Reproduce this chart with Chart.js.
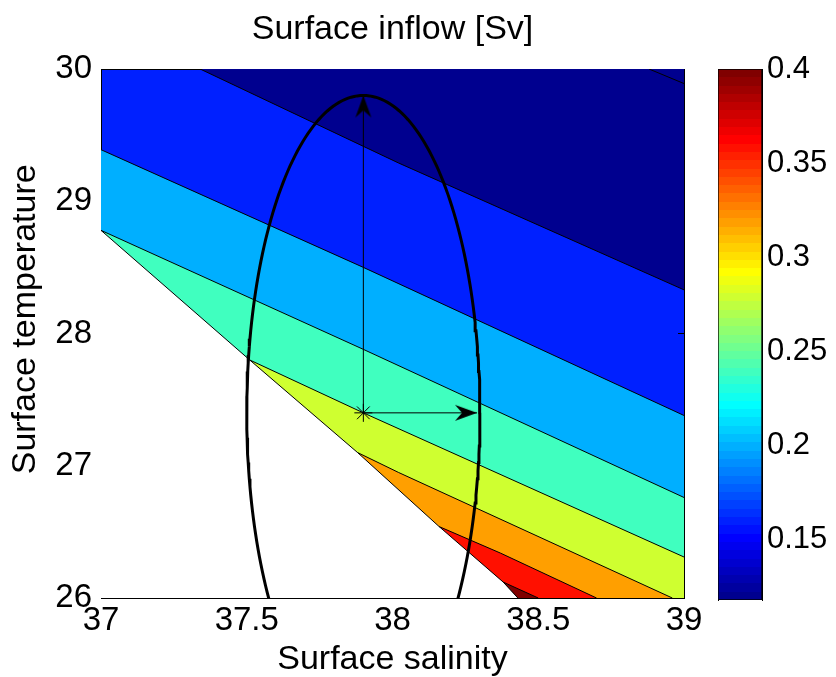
<!DOCTYPE html>
<html>
<head>
<meta charset="utf-8">
<title>Surface inflow [Sv]</title>
<script src="https://cdn.jsdelivr.net/npm/chart.js@4.4.1/dist/chart.umd.min.js"></script>
<style>
  body { margin: 0; background: #fff; }
  #wrap { position: relative; width: 836px; height: 677px; }
  #wrap canvas { position: absolute; top: 0; }
  #main { left: 0; }
  #cbar { left: 700px; }
</style>
</head>
<body>
<div id="wrap">
  <canvas id="main" width="785" height="677"></canvas>
  <canvas id="cbar" width="136" height="677"></canvas>
</div>
<script>
// axis ticks
const salinityTicks = [37, 37.5, 38, 38.5, 39];
const salinityLabels = ['37', '37.5', '38', '38.5', '39'];
const tempTicks = [26, 27, 28, 29, 30];
const tempLabels = ['26', '27', '28', '29', '30'];

// colour scale
const cMin = 0.1176, cMax = 0.4;
const cbarTicks = [0.15, 0.2, 0.25, 0.3, 0.35, 0.4];
const cbarLabels = ['0.15', '0.2', '0.25', '0.3', '0.35', '0.4'];

// contour levels [Sv] and the lines
const levels = [0.12, 0.16, 0.2, 0.24, 0.28, 0.32, 0.36, 0.4];
const contourS = [
  [38.88, 39.0],
  [37.34, 38.02, 39.0],
  [37.0, 37.9, 39.0],
  [37.0, 37.9, 39.0],
  [37.51, 37.9, 39.0],
  [37.88, 38.02, 38.96],
  [38.16, 38.37, 38.7],
  [38.38, 38.5]
];
const contourT = [
  [30.0, 29.89],
  [30.0, 29.29, 28.33],
  [29.39, 28.5, 27.38],
  [28.78, 27.88, 26.76],
  [27.8, 27.4, 26.31],
  [27.1, 26.95, 26.0],
  [26.54, 26.34, 26.0],
  [26.12, 26.0]
];
// edge of the region without values (white)
const emptyS = [37.0, 37.51, 37.88, 38.16, 38.38, 38.43];
const emptyT = [28.78, 27.8, 27.1, 26.54, 26.12, 26.0];

// mean state and its spread
const meanS = 37.9, meanT = 27.4;
const spreadS = 0.4, spreadT = 2.4;
const arrowTipS = 38.29, arrowTipT = 29.8;

const nColors = 64;
function jet(t) {
  const c = v => Math.round(255 * Math.max(0, Math.min(1, v)));
  return 'rgb(' + c(Math.min(4 * t - 1.5, -4 * t + 4.5)) + ',' +
    c(Math.min(4 * t - 0.5, -4 * t + 3.5)) + ',' +
    c(Math.min(4 * t + 0.5, -4 * t + 2.5)) + ')';
}
function levelColor(v) {
  let idx = Math.floor((v - cMin) / (cMax - cMin) * nColors) + 1;
  idx = Math.max(1, Math.min(nColors, idx));
  return jet(idx / nColors);
}

const fontFamily = "'Liberation Sans', Arial, Helvetica, sans-serif";
Chart.defaults.font.family = fontFamily;
Chart.defaults.color = '#000';

function axis(position, min, max, ticks, labels, size, pad, fontSize, extra) {
  const horizontal = position === 'top' || position === 'bottom';
  const o = {
    type: 'linear',
    position: position,
    min: min,
    max: max,
    z: 1,
    afterBuildTicks: s => { s.ticks = ticks.map(v => ({ value: v })); },
    afterFit: s => { if (horizontal) s.height = size; else s.width = size; },
    ticks: {
      display: !!labels,
      callback: (v, i) => labels ? labels[i] : '',
      font: { size: fontSize || 33, lineHeight: 1 },
      padding: pad || 0,
      autoSkip: false,
      maxRotation: 0
    },
    grid: { drawOnChartArea: false, drawTicks: true, tickLength: -6, color: '#000', lineWidth: 1 },
    border: { display: true, color: '#000', width: 1 }
  };
  return Object.assign(o, extra || {});
}

function pts(xs, ys) {
  return xs.map((x, i) => ({ x: x, y: ys[i] }));
}

function arrowHead() {
  const c = document.createElement('canvas');
  c.width = 48; c.height = 48;
  const g = c.getContext('2d');
  g.fillStyle = '#000';
  g.beginPath();
  g.moveTo(24, 24);
  g.lineTo(32, 46);
  g.lineTo(24, 39);
  g.lineTo(16, 46);
  g.closePath();
  g.fill();
  return c;
}
const head = arrowHead();

// draw order: fills painted from the first dataset to the last
const sets = [];
levels.forEach((lev, i) => {
  let fill = 'start', bg = levelColor(lev);
  if (i === 0) { fill = false; }
  if (i === 1) { fill = 'end'; bg = levelColor(levels[0]); }
  sets.push({
    label: 'level ' + lev,
    data: pts(contourS[i], contourT[i]),
    showLine: true,
    borderColor: '#000',
    borderWidth: 1,
    backgroundColor: bg,
    fill: fill,
    pointRadius: 0,
    tension: 0
  });
});
sets.push({
  label: 'no data',
  data: pts(emptyS, emptyT),
  showLine: true,
  borderColor: '#000',
  borderWidth: 1,
  backgroundColor: '#fff',
  fill: 'start',
  pointRadius: 0,
  tension: 0
});

const ellipse = [];
for (let k = 0; k <= 240; k++) {
  const a = k / 240 * 2 * Math.PI;
  ellipse.push({ x: meanS + spreadS * Math.cos(a), y: meanT + spreadT * Math.sin(a) });
}
sets.push({
  label: 'spread',
  data: ellipse,
  showLine: true,
  borderColor: '#000',
  borderWidth: 3,
  fill: false,
  pointRadius: 0,
  tension: 0,
  clip: 0
});
sets.push({
  label: 'temperature arrow',
  data: [{ x: meanS, y: meanT }, { x: meanS, y: arrowTipT }],
  showLine: true,
  borderColor: '#000',
  borderWidth: 1,
  fill: false,
  pointRadius: [0, 1],
  pointStyle: ['circle', head],
  pointRotation: [0, 0]
});
sets.push({
  label: 'salinity arrow',
  data: [{ x: meanS, y: meanT }, { x: arrowTipS, y: meanT }],
  showLine: true,
  borderColor: '#000',
  borderWidth: 1,
  fill: false,
  pointRadius: [0, 1],
  pointStyle: ['circle', head],
  pointRotation: [0, 90]
});
sets.push({
  label: 'mean',
  data: [{ x: meanS, y: meanT }],
  showLine: false,
  pointStyle: 'star',
  pointRadius: 9,
  borderColor: '#000',
  borderWidth: 1,
  backgroundColor: 'rgba(0,0,0,0)'
});
sets.forEach((d, i) => { d.order = sets.length - i; });

const baseFill = {
  id: 'baseFill',
  beforeDraw(chart) {
    const { ctx, chartArea: a } = chart;
    ctx.save();
    ctx.fillStyle = levelColor(levels[1]);
    ctx.fillRect(a.left, a.top, a.right - a.left, a.bottom - a.top);
    ctx.restore();
  }
};

new Chart(document.getElementById('main'), {
  type: 'scatter',
  data: { datasets: sets },
  plugins: [baseFill],
  options: {
    responsive: false,
    animation: false,
    events: [],
    layout: { padding: 0 },
    plugins: {
      legend: { display: false },
      tooltip: { enabled: false },
      filler: { drawTime: 'beforeDatasetsDraw' },
      title: {
        display: true,
        text: 'Surface inflow [Sv]',
        color: '#000',
        font: { size: 34, weight: 'normal', lineHeight: 1 },
        padding: { top: 13, bottom: 22 }
      }
    },
    scales: {
      x: axis('bottom', 37, 39, salinityTicks, salinityLabels, 79, 12, 33, {
        title: { display: true, text: 'Surface salinity', color: '#000',
          font: { size: 34, lineHeight: 1 }, padding: { top: 0, bottom: 0 } }
      }),
      y: axis('left', 26, 30, tempTicks, tempLabels, 101, 15, 33, {
        title: { display: true, text: '   Surface temperature', color: '#000',
          font: { size: 34, lineHeight: 1 }, padding: { top: 9, bottom: 0 } }
      }),
      xTop: axis('top', 37, 39, salinityTicks, null, 0),
      yRight: axis('right', 26, 30, tempTicks, null, 101)
    }
  }
});

// colour bar
new Chart(document.getElementById('cbar'), {
  type: 'bar',
  data: {
    labels: [''],
    datasets: [{
      data: [[cMin, cMax]],
      backgroundColor: function (context) {
        const chart = context.chart;
        const a = chart.chartArea;
        if (!a) return null;
        const g = chart.ctx.createLinearGradient(0, a.bottom, 0, a.top);
        for (let i = 0; i < nColors; i++) {
          const col = jet((i + 1) / nColors);
          g.addColorStop(i / nColors, col);
          g.addColorStop((i + 1) / nColors, col);
        }
        return g;
      },
      borderColor: '#000',
      borderWidth: 1,
      borderSkipped: false,
      barPercentage: 1,
      categoryPercentage: 1
    }]
  },
  options: {
    responsive: false,
    animation: false,
    events: [],
    layout: { padding: { left: 0, right: 0, top: 69, bottom: 77 } },
    plugins: { legend: { display: false }, tooltip: { enabled: false } },
    scales: {
      x: { display: false },
      y: axis('right', cMin, cMax, cbarTicks, cbarLabels, 74, 11, 31),
      yLeft: axis('left', cMin, cMax, cbarTicks, null, 18)
    }
  }
});
</script>
</body>
</html>
